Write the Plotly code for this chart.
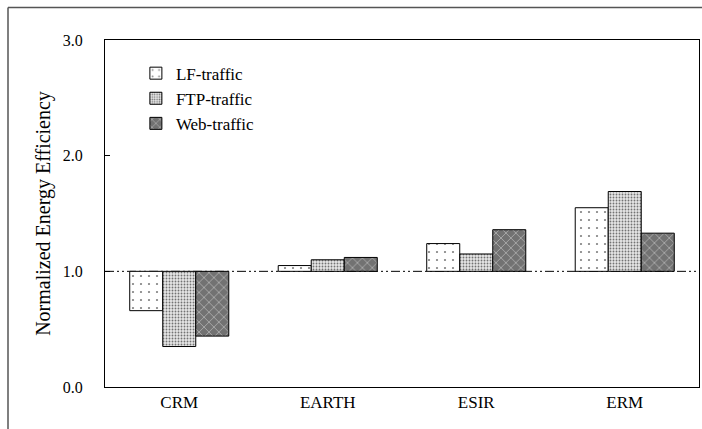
import plotly.graph_objects as go

categories = ["CRM", "EARTH", "ESIR", "ERM"]
lf_traffic = [0.66, 1.05, 1.24, 1.55]
ftp_traffic = [0.35, 1.10, 1.15, 1.69]
web_traffic = [0.44, 1.12, 1.36, 1.33]
baseline = 1.0
y_ticks = [0.0, 1.0, 2.0, 3.0]
y_tick_labels = ["0.0", "1.0", "2.0", "3.0"]

FONT = "Liberation Serif"

series = [
    ("LF-traffic", lf_traffic, dict(shape=".", bgcolor="white", fgcolor="black", size=8, solidity=0.06)),
    ("FTP-traffic", ftp_traffic, dict(shape=".", bgcolor="#e6e6e6", fgcolor="black", size=3, solidity=0.3)),
    ("Web-traffic", web_traffic, dict(shape="x", bgcolor="#727272", fgcolor="#e0e0e0", size=7, solidity=0.25)),
]

fig = go.Figure()
for name, vals, pat in series:
    fig.add_trace(go.Bar(
        x=categories,
        y=[v - baseline for v in vals],
        base=baseline,
        name=name,
        legendgroup=name,
        marker=dict(color=pat["bgcolor"], pattern=pat,
                    line=dict(color="black", width=1)),
    ))

# dash-dot reference line at the baseline
fig.add_shape(type="line", xref="paper", yref="y", x0=0, x1=1, y0=baseline, y1=baseline,
              line=dict(color="black", width=1, dash="9px,3px,2px,3px,2px,3px"), layer="below")

# outer figure border (left and top)
fig.add_shape(type="line", xref="paper", yref="paper", x0=-97/594, x1=-97/594, y0=-1, y1=(387-7.5)/347,
              line=dict(color="#555555", width=1.5))
fig.add_shape(type="line", xref="paper", yref="paper", x0=-97/594, x1=1.2, y0=(387-7.5)/347, y1=(387-7.5)/347,
              line=dict(color="#555555", width=1.5))

fig.update_layout(
    width=702, height=429,
    margin=dict(l=105, r=3, t=40, b=42),
    paper_bgcolor="white", plot_bgcolor="white",
    barmode="group", bargap=0.333, bargroupgap=0,
    font=dict(family=FONT, color="black", size=15),
    showlegend=True,
    legend=dict(x=0.052, y=0.955, xanchor="left", yanchor="top",
                bgcolor="rgba(0,0,0,0)", font=dict(size=17, family=FONT),
                tracegroupgap=6, traceorder="normal"),
    xaxis=dict(showline=True, linecolor="black", linewidth=1, mirror=True,
               ticks="", tickfont=dict(size=17, family=FONT), showgrid=False),
    yaxis=dict(range=[0, 3], tickvals=y_ticks, ticktext=y_tick_labels,
               showline=True, linecolor="black", linewidth=1, mirror=True,
               ticks="inside", ticklen=5, tickcolor="black",
               ticklabelstandoff=18, tickfont=dict(size=16, family=FONT),
               showgrid=False, zeroline=False,
               title=dict(text="Normalized Energy Efficiency", font=dict(size=20, family=FONT), standoff=6)),
)

fig.write_html("out.html", config={"displayModeBar": False},
               post_script="document.body.style.margin='0';document.documentElement.style.overflow='hidden';")
